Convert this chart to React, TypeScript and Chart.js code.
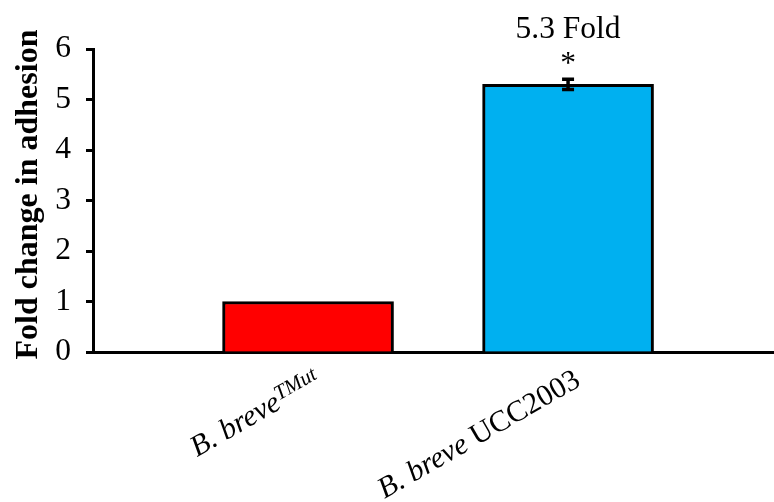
import React, { useEffect, useRef } from "react";
import { Chart, registerables } from "chart.js";

Chart.register(...registerables);

// Adhesion of B. breve strains, relative to the mutant strain
const strainPositions = [0, 1];
const foldChange = [1, 5.3];
const foldError = [0, 0.1];
const barColors = ["#FF0000", "#00B0F0"];
const significance = ["", "*"];

// Axis labels, split into styled runs (italic species name, superscript, plain strain id)
type Run = { text: string; italic?: boolean; sup?: boolean };
const strainLabels: Run[][] = [
  [{ text: "B. breve", italic: true }, { text: "TMut", italic: true, sup: true }],
  [{ text: "B. breve", italic: true }, { text: " UCC2003" }],
];
const yTicks = [0, 1, 2, 3, 4, 5, 6];
const yTitle = "Fold change in adhesion";

const SERIF = "'Liberation Serif', 'Times New Roman', serif";

const overlayPlugin = {
  id: "overlay",
  afterDatasetsDraw(chart: any) {
    const { ctx, scales } = chart;
    const xs = scales.x;
    const ys = scales.y;
    ctx.save();
    ctx.strokeStyle = "#000";
    ctx.fillStyle = "#000";
    ctx.lineWidth = 3.5;
    foldChange.forEach((v, i) => {
      const e = foldError[i];
      const x = xs.getPixelForValue(strainPositions[i]);
      const yTop = ys.getPixelForValue(v + e);
      if (e > 0) {
        const yBot = ys.getPixelForValue(v - e);
        ctx.beginPath();
        ctx.moveTo(x, yTop);
        ctx.lineTo(x, yBot);
        ctx.moveTo(x - 6, yTop);
        ctx.lineTo(x + 6, yTop);
        ctx.moveTo(x - 6, yBot);
        ctx.lineTo(x + 6, yBot);
        ctx.stroke();
      }
      if (significance[i]) {
        ctx.font = `31.5px ${SERIF}`;
        ctx.textAlign = "center";
        ctx.textBaseline = "alphabetic";
        ctx.fillText(significance[i], x, yTop - 6);
        const fold = v / foldChange[0];
        ctx.fillText(`${fold.toFixed(1)} Fold`, x, yTop - 41);
      }
    });
    ctx.restore();
  },
  afterDraw(chart: any) {
    const { ctx, scales, chartArea } = chart;
    const xs = scales.x;
    ctx.save();
    ctx.fillStyle = "#000";
    // rotated category labels, right end anchored under each bar
    strainLabels.forEach((runs, i) => {
      const cx = xs.getPixelForValue(strainPositions[i]);
      const fontFor = (r: Run) =>
        `${r.italic ? "italic " : ""}${r.sup ? 21 : 30}px ${SERIF}`;
      let total = 0;
      const widths = runs.map((r) => {
        ctx.font = fontFor(r);
        const w = ctx.measureText(r.text).width;
        total += w;
        return w;
      });
      ctx.save();
      ctx.translate(cx + 14, chartArea.bottom + 33);
      ctx.rotate((-30 * Math.PI) / 180);
      ctx.textAlign = "left";
      ctx.textBaseline = "alphabetic";
      let pos = -total;
      runs.forEach((r, k) => {
        ctx.font = fontFor(r);
        ctx.fillText(r.text, pos, r.sup ? -8 : 0);
        pos += widths[k];
      });
      ctx.restore();
    });
    // y axis title
    ctx.save();
    ctx.translate(37, (chartArea.top + chartArea.bottom) / 2 - 6);
    ctx.rotate(-Math.PI / 2);
    ctx.font = `bold 32px ${SERIF}`;
    ctx.textAlign = "center";
    ctx.textBaseline = "alphabetic";
    ctx.fillText(yTitle, 0, 0);
    ctx.restore();
    ctx.restore();
  },
};

export default function App() {
  const canvasRef = useRef<HTMLCanvasElement | null>(null);

  useEffect(() => {
    document.body.style.margin = "0";
    const canvas = canvasRef.current;
    if (!canvas) return;
    const chart = new Chart(canvas, {
      type: "bar",
      data: {
        datasets: [
          {
            data: foldChange.map((v, i) => ({ x: strainPositions[i], y: v })),
            backgroundColor: barColors,
            borderColor: "#000",
            borderWidth: 3,
            barThickness: 171,
          },
        ],
      },
      options: {
        responsive: false,
        animation: false,
        devicePixelRatio: 1,
        layout: { padding: { top: 49, right: 0, bottom: 0, left: 0 } },
        plugins: {
          legend: { display: false },
          tooltip: { enabled: false },
        },
        scales: {
          x: {
            type: "linear",
            offset: false,
            min: -0.827,
            max: 1.792,
            ticks: { display: false },
            grid: { display: false },
            border: { display: true, color: "#000", width: 3 },
            afterFit: (s: any) => {
              s.height = 150;
            },
          },
          y: {
            min: 0,
            max: 6,
            afterBuildTicks: (s: any) => {
              s.ticks = yTicks.map((v) => ({ value: v }));
            },
            ticks: {
              color: "#000",
              padding: 15,
              font: { family: SERIF, size: 31.5 },
            },
            grid: {
              display: true,
              drawOnChartArea: false,
              drawTicks: true,
              tickLength: 7,
              tickWidth: 3,
              tickColor: "#000",
            },
            border: { display: true, color: "#000", width: 3 },
            afterFit: (s: any) => {
              s.width = 93;
            },
          },
        },
      } as any,
      plugins: [overlayPlugin],
    });
    return () => chart.destroy();
  }, []);

  return (
    <div style={{ width: 774, height: 502, background: "#fff" }}>
      <canvas ref={canvasRef} width={774} height={502} />
    </div>
  );
}
